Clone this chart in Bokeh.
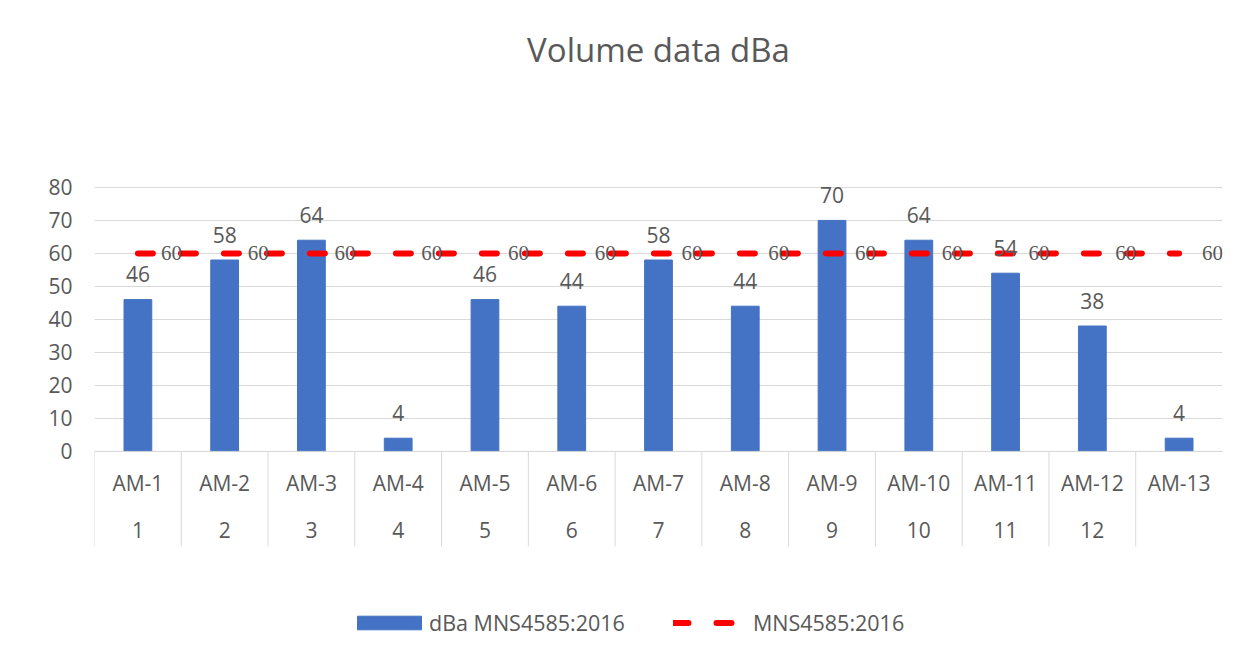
import math
from bokeh.plotting import figure
from bokeh.models import (ColumnDataSource, FactorRange, Range1d, FixedTicker, Span,
                          Legend, LegendItem, LabelSet)
from bokeh.transform import dodge
from bokeh.core.properties import value
from bokeh.embed import file_html
from bokeh.resources import INLINE

# ---- data ----
categories = ["AM-1", "AM-2", "AM-3", "AM-4", "AM-5", "AM-6", "AM-7",
              "AM-8", "AM-9", "AM-10", "AM-11", "AM-12", "AM-13"]
group_labels = ["1", "2", "3", "4", "5", "6", "7", "8", "9", "10", "11", "12", ""]
dba_values = [46, 58, 64, 4, 46, 44, 58, 44, 70, 64, 54, 38, 4]
limit_values = [60, 60, 60, 60, 60, 60, 60, 60, 60, 60, 60, 60, 60]
y_ticks = [0, 10, 20, 30, 40, 50, 60, 70, 80]

FONT = "Open Sans"
TXT = "#595959"
GRID = "#D9D9D9"

src = ColumnDataSource(dict(
    cat=categories,
    grp=group_labels,
    val=dba_values,
    val_label=[str(v) for v in dba_values],
    limit=limit_values,
    limit_label=[str(v) for v in limit_values],
    zero=[0] * len(categories),
))

p = figure(x_range=FactorRange(*categories, range_padding=0),
           y_range=Range1d(-56.7, 112.4),
           width=1233, height=649,
           output_backend="svg", toolbar_location=None,
           min_border_left=94, min_border_right=11,
           min_border_top=80, min_border_bottom=11)

p.title.text = "Volume data dBa"
p.title.align = "center"
p.title.text_font = FONT
p.title.text_font_size = "33px"
p.title.text_font_style = "normal"
p.title.text_color = TXT
p.title.standoff = 18

p.outline_line_color = None
p.background_fill_color = "white"
p.border_fill_color = "white"

# grid & axes
p.xgrid.grid_line_color = None
p.ygrid.ticker = FixedTicker(ticks=y_ticks)
p.ygrid.grid_line_color = GRID
p.ygrid.grid_line_width = 1

p.xaxis.visible = False
p.yaxis.ticker = FixedTicker(ticks=y_ticks)
p.yaxis.axis_line_color = None
p.yaxis.major_tick_line_color = None
p.yaxis.minor_tick_line_color = None
p.yaxis.major_tick_out = 0
p.yaxis.major_tick_in = 0
p.yaxis.major_label_standoff = 22
p.yaxis.major_label_text_font = FONT
p.yaxis.major_label_text_font_size = "21px"
p.yaxis.major_label_text_color = TXT

p.add_layout(Span(location=0, dimension="width", line_color=GRID, line_width=1))

# category separators (tick marks of the multi-level axis)
p.ray(x=dodge("cat", -0.5, range=p.x_range), y="zero", length=95, length_units="screen",
      angle=-math.pi / 2, line_color=GRID, line_width=1, source=src)

# category labels
p.text(x="cat", y="zero", text="cat", source=src, text_align="center",
       text_baseline="alphabetic", y_offset=31.5,
       text_font=value(FONT), text_font_size="21px", text_color=TXT)
p.text(x="cat", y="zero", text="grp", source=src, text_align="center",
       text_baseline="alphabetic", y_offset=78.5,
       text_font=value(FONT), text_font_size="21px", text_color=TXT)

# bars
bars = p.vbar(x="cat", top="val", width=0.32, fill_color="#4472C4",
              line_color="#4472C4", source=src)

# limit line
line = p.line(x="cat", y="limit", line_color="#FF0000", line_width=6,
              line_dash="15 28", line_cap="round", source=src)

# data labels
p.text(x="cat", y="val", text="val_label", source=src, text_align="center",
       text_baseline="alphabetic", y_offset=-25.5,
       text_font=value(FONT), text_font_size="21px", text_color=TXT)
p.add_layout(LabelSet(x="cat", y="limit", text="limit_label", source=src,
                      text_align="left", text_baseline="middle", x_offset=23, y_offset=0,
                      text_font=FONT, text_font_size="21px", text_color=TXT))

legend = Legend(items=[LegendItem(label="dBa MNS4585:2016", renderers=[bars]),
                       LegendItem(label="MNS4585:2016", renderers=[line])],
                location=(255, 1), orientation="horizontal",
                glyph_width=80, glyph_height=17, spacing=48, label_standoff=0,
                padding=4, margin=0,
                label_text_font=FONT, label_text_font_size="21.5px",
                label_text_color=TXT,
                border_line_color=None, background_fill_alpha=0)
p.add_layout(legend)

open("out.html", "w").write(file_html(p, INLINE))
